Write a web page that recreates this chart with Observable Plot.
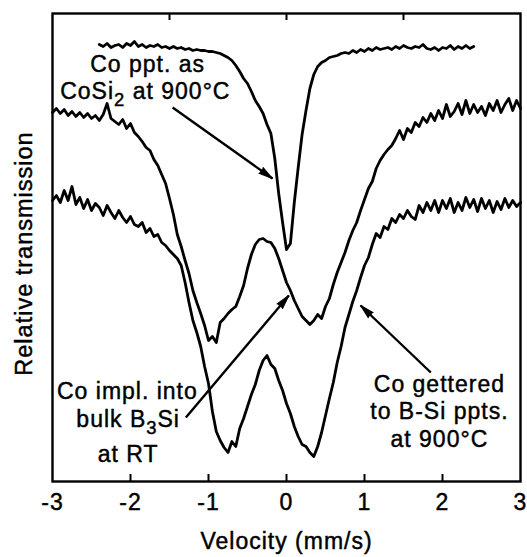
<!DOCTYPE html>
<html>
<head>
<meta charset="utf-8">
<script src="https://cdn.jsdelivr.net/npm/d3@7"></script>
<script src="https://cdn.jsdelivr.net/npm/@observablehq/plot@0.6"></script>
<style>
  html, body { margin: 0; padding: 0; background: #fff; }
  #chart svg { display: block; }
  #chart text { stroke: #000; stroke-width: 0.45px; }
</style>
</head>
<body>
<div id="chart"></div>
<script>
// ---- Data (transmission in arbitrary units) ----
const velocity = [-3,-2.95,-2.9,-2.85,-2.8,-2.75,-2.7,-2.65,-2.6,-2.55,-2.5,-2.45,-2.4,-2.35,-2.3,-2.25,-2.2,-2.15,-2.1,-2.05,
  -2,-1.95,-1.9,-1.85,-1.8,-1.75,-1.7,-1.65,-1.6,-1.55,-1.5,-1.45,-1.4,-1.35,-1.3,-1.25,-1.2,-1.15,-1.1,-1.05,
  -1,-0.95,-0.9,-0.85,-0.8,-0.75,-0.7,-0.65,-0.6,-0.55,-0.5,-0.45,-0.4,-0.35,-0.3,-0.25,-0.2,-0.15,-0.1,-0.05,
  0,0.05,0.1,0.15,0.2,0.25,0.3,0.35,0.4,0.45,0.5,0.55,0.6,0.65,0.7,0.75,0.8,0.85,0.9,0.95,
  1,1.05,1.1,1.15,1.2,1.25,1.3,1.35,1.4,1.45,1.5,1.55,1.6,1.65,1.7,1.75,1.8,1.85,1.9,1.95,
  2,2.05,2.1,2.15,2.2,2.25,2.3,2.35,2.4,2.45,2.5,2.55,2.6,2.65,2.7,2.75,2.8,2.85,2.9,2.95,3];

// Co ppt. as CoSi2 at 900 C (measured from -2.40 to 2.40 mm/s)
const cosi2Velocity = velocity.slice(12, 109);
const cosi2Transmission = [
  437,435,438,434,436,437,434,438,436,440,
  435,437,434,436,435,437,434,435,433,435,
  433,434,432,433,431,432,431,431,430,430,
  429,428,426,424,421,416,410,403,398,390,
  381,375,368,357,348,323,288,259,232,238,
  279,314,347,371,393,407,415,419,421,424,
  425,426,428,429,428,431,429,432,430,433,
  431,434,432,433,434,432,435,433,436,434,
  433,435,434,437,433,432,434,431,434,433,
  436,432,435,433,436,433,435];

// Co implanted into bulk B3Si at RT
const implantedTransmission = [
  369,373,368,372,366,370,365,369,364,368,
  363,366,361,367,378,363,360,357,362,353,
  358,349,345,340,334,331,322,316,307,298,
  283,267,247,235,221,208,191,179,168,156,
  141,145,139,159,163,168,172,175,185,196,
  213,227,237,242,243,240,239,233,223,211,
  199,191,181,173,165,161,157,161,167,163,
  175,183,197,209,219,229,241,251,259,271,
  282,293,300,313,321,327,332,336,343,351,
  342,353,349,359,355,364,359,368,361,371,
  363,377,365,370,378,367,381,368,377,369,
  375,366,378,371,381,369,377,383,371,381,
  373];

// Co gettered to B-Si precipitates at 900 C
const getteredTransmission = [
  281,286,279,291,281,295,277,284,273,282,
  271,278,274,266,276,269,263,271,264,259,
  265,257,255,259,249,253,245,247,239,236,
  231,227,223,216,199,179,161,149,135,115,
  98,70,50,41,34,29,40,35,53,63,
  75,87,97,111,121,126,117,113,101,91,
  78,68,55,45,37,35,29,25,35,49,
  66,83,99,119,135,154,167,180,191,204,
  216,224,237,248,244,255,252,263,259,267,
  263,271,265,262,276,269,279,271,281,269,
  281,273,283,269,279,271,284,274,282,270,
  283,273,281,269,280,272,283,274,281,275,
  279];

const xTickValues = [-3, -2, -1, 0, 1, 2, 3];
const topTickValues = [-1.5, 0, 1.5];

// Annotations ("_n" marks a subscript)
const noteText = ["Co ppt. as", "CoSi_2 at 900°C", "Co impl. into", "bulk B_3Si", "at RT",
                  "Co gettered", "to B-Si ppts.", "at 900°C"];
const noteVelocity = [-1.78, -1.81, -2.04, -2.03, -2.03, 1.96, 1.96, 1.96];
const noteTransmission = [417, 390, 90, 62, 27, 97, 70, 42];

// Arrows
const arrowFromVelocity = [-1.46, -1.29, 1.85];
const arrowFromTransmission = [374, 64, 109];
const arrowToVelocity = [-0.18, 0.03, 0.95];
const arrowToTransmission = [303, 186, 176];

// ---- Build tables ----
const toRows = (vs, ts) => ts.map((t, i) => ({v: vs[i], t}));
const cosi2Rows = toRows(cosi2Velocity, cosi2Transmission);
const implantedRows = toRows(velocity, implantedTransmission);
const getteredRows = toRows(velocity, getteredTransmission);
const notes = noteText.map((label, i) => ({label, v: noteVelocity[i], t: noteTransmission[i]}));
const arrows = arrowFromVelocity.map((_, i) => ({
  x1: arrowFromVelocity[i], y1: arrowFromTransmission[i],
  x2: arrowToVelocity[i], y2: arrowToTransmission[i]
}));

const W = 527, H = 557, mL = 52, mR = 7, mT = 13, mB = 76;
const frameH = H - mT - mB;
const fs = 23;
const lineStyle = {x: "v", y: "t", stroke: "black", strokeWidth: 2.8, strokeLinejoin: "round", strokeLinecap: "round"};
const base = {
  width: W, height: H,
  marginLeft: mL, marginRight: mR, marginTop: mT, marginBottom: mB,
  style: "font-family: 'Liberation Sans', Arial, Helvetica, sans-serif; letter-spacing: 1px; background: white; color: black;",
  x: {domain: [-3, 3], label: null},
  y: {domain: [0, 468], axis: null, label: null}
};

// first pass: get the scales to orient the arrow heads on screen
const probe = Plot.plot({...base, marks: [Plot.frame()]});
const sx = probe.scale("x"), sy = probe.scale("y");
arrows.forEach(a => {
  const dx = sx.apply(a.x2) - sx.apply(a.x1);
  const dy = sy.apply(a.y2) - sy.apply(a.y1);
  a.angle = Math.atan2(dx, -dy) * 180 / Math.PI;
});

const plot = Plot.plot({
  ...base,
  marks: [
    Plot.line(cosi2Rows, lineStyle),
    Plot.line(implantedRows, lineStyle),
    Plot.line(getteredRows, lineStyle),
    Plot.link(arrows, {x1: "x1", y1: "y1", x2: "x2", y2: "y2", stroke: "black", strokeWidth: 2.4}),
    Plot.vector(arrows, {x: "x2", y: "y2", rotate: "angle", length: 14, r: 3.6, shape: "spike", anchor: "end", fill: "black", stroke: "black", strokeWidth: 1}),
    Plot.text(notes, {x: "v", y: "t", text: "label", fontSize: fs, textAnchor: "middle", lineAnchor: "middle", fill: "black"}),
    Plot.ruleX(xTickValues.slice(1, -1), {insetTop: frameH - 7, stroke: "black", strokeWidth: 2}),
    Plot.ruleX(topTickValues, {insetBottom: frameH - 7, stroke: "black", strokeWidth: 2}),
    Plot.frame({stroke: "black", strokeWidth: 2.4}),
    Plot.axisX({ticks: xTickValues, tickSize: 0, tickPadding: 12, fontSize: fs, label: null, tickFormat: d => String(d)}),
    Plot.text(["Velocity (mm/s)"], {frameAnchor: "bottom", dy: 60, text: d => d, fontSize: 23, textAnchor: "middle", lineAnchor: "middle", fill: "black"}),
    Plot.text(["Relative transmission"], {frameAnchor: "left", dx: -28, dy: 6, rotate: -90, text: d => d, fontSize: 23.5, textAnchor: "middle", lineAnchor: "middle", fill: "black"})
  ]
});

// Render subscripts as real tspans
d3.select(plot).selectAll("text").each(function () {
  const s = this.textContent;
  if (!/_\d/.test(s)) return;
  const parts = s.split(/_(\d)/);
  this.textContent = "";
  const sel = d3.select(this);
  parts.forEach((p, i) => {
    if (!p) return;
    const t = sel.append("tspan").text(p);
    if (i % 2 === 1) t.attr("font-size", "80%").attr("dy", 7);
    else if (i > 0) t.attr("dy", -7);
  });
});

document.getElementById("chart").appendChild(plot);
</script>
</body>
</html>
